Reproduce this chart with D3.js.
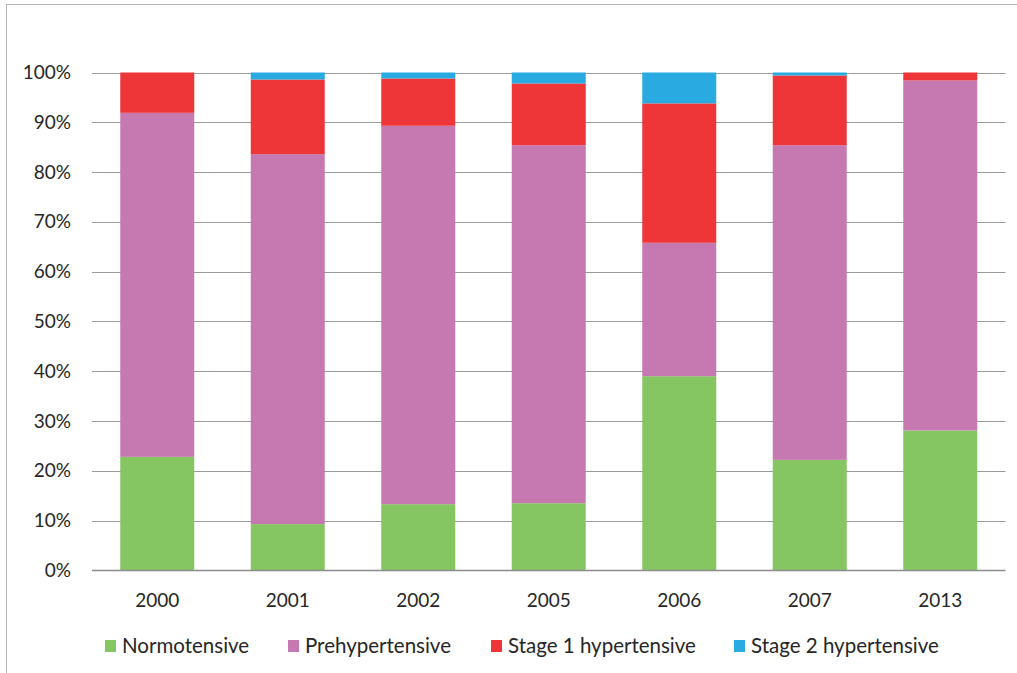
<!DOCTYPE html>
<html>
<head>
<meta charset="utf-8">
<script src="https://cdn.jsdelivr.net/npm/d3@7"></script>
<style>
  html, body { margin: 0; padding: 0; background: #fff; }
  svg { display: block; }
  text { font-family: Lato, "Open Sans", sans-serif; fill: #262626; }
</style>
</head>
<body>
<svg id="chart" width="1017" height="673"></svg>
<script>
// Survey years
const years = ["2000", "2001", "2002", "2005", "2006", "2007", "2013"];

// Share of each blood-pressure class per year (percent)
const normotensive    = [22.8,  9.3, 13.3, 13.5, 39.0, 22.2, 28.1];
const prehypertensive = [69.1, 74.3, 76.0, 71.9, 26.8, 63.2, 70.3];
const stage1          = [ 8.1, 15.0,  9.5, 12.4, 28.0, 14.0,  1.6];
const stage2          = [ 0.0,  1.4,  1.2,  2.2,  6.2,  0.6,  0.0];

const seriesNames  = ["Normotensive", "Prehypertensive", "Stage 1 hypertensive", "Stage 2 hypertensive"];
const seriesColors = ["#86c662", "#c678b1", "#ee3537", "#29abe2"];
const yTicks = [0, 10, 20, 30, 40, 50, 60, 70, 80, 90, 100];

const seriesValues = [normotensive, prehypertensive, stage1, stage2];
const rows = years.map((y, i) => {
  const r = { year: y };
  seriesNames.forEach((n, k) => { r[n] = seriesValues[k][i]; });
  return r;
});

const svg = d3.select("#chart");

// Outer frame of the chart area
svg.append("rect")
  .attr("x", 6.5).attr("y", 4.5)
  .attr("width", 1030).attr("height", 700)
  .attr("fill", "none").attr("stroke", "#b5b5b5").attr("stroke-width", 1);

const x = d3.scaleBand()
  .domain(years)
  .range([92, 1005.5])
  .paddingInner(0.433)
  .paddingOuter(0.2165);

const y = d3.scaleLinear()
  .domain([0, 100])
  .range([570.4, 72.5]);

// Horizontal gridlines
svg.append("g")
  .selectAll("line")
  .data(yTicks.filter(t => t > 0))
  .join("line")
  .attr("x1", 92).attr("x2", 1005.5)
  .attr("y1", d => Math.round(y(d)) + 0.5)
  .attr("y2", d => Math.round(y(d)) + 0.5)
  .attr("stroke", "#9b9b9b").attr("stroke-width", 1);

// Y axis labels
const yAxis = d3.axisLeft(y)
  .tickValues(yTicks)
  .tickFormat(d => d + "%")
  .tickSize(0)
  .tickPadding(0);
const yg = svg.append("g").attr("transform", "translate(71,0)").call(yAxis);
yg.select(".domain").remove();
yg.selectAll("text")
  .attr("font-size", 19)
  .attr("font-family", "Lato, 'Open Sans', sans-serif")
  .attr("fill", "#262626");

// Stacked bars
const stack = d3.stack().keys(seriesNames);
const layers = stack(rows);

svg.append("g")
  .selectAll("g")
  .data(layers)
  .join("g")
  .attr("fill", (d, i) => seriesColors[i])
  .selectAll("rect")
  .data(d => d)
  .join("rect")
  .attr("x", d => x(d.data.year))
  .attr("width", x.bandwidth())
  .attr("y", d => y(d[1]))
  .attr("height", d => Math.max(0, y(d[0]) - y(d[1])));

// X axis baseline and year labels
const xAxis = d3.axisBottom(x).tickSize(0).tickPadding(0);
const xg = svg.append("g").attr("transform", "translate(0,570.5)").call(xAxis);
xg.select(".domain").attr("stroke", "#8c8c8c").attr("stroke-width", 1.5)
  .attr("d", "M92,0H1005.5");
xg.selectAll("text")
  .attr("y", 36)
  .attr("dy", null)
  .attr("font-size", 19)
  .attr("font-family", "Lato, 'Open Sans', sans-serif")
  .attr("fill", "#262626");

// Legend
const legendX = [105, 288, 491, 734];
const legend = svg.append("g");
seriesNames.forEach((n, i) => {
  legend.append("rect")
    .attr("x", legendX[i]).attr("y", 640)
    .attr("width", 11).attr("height", 12)
    .attr("fill", seriesColors[i]);
  legend.append("text")
    .attr("x", legendX[i] + 17).attr("y", 653)
    .attr("font-size", 20.5)
    .text(n);
});
</script>
</body>
</html>
